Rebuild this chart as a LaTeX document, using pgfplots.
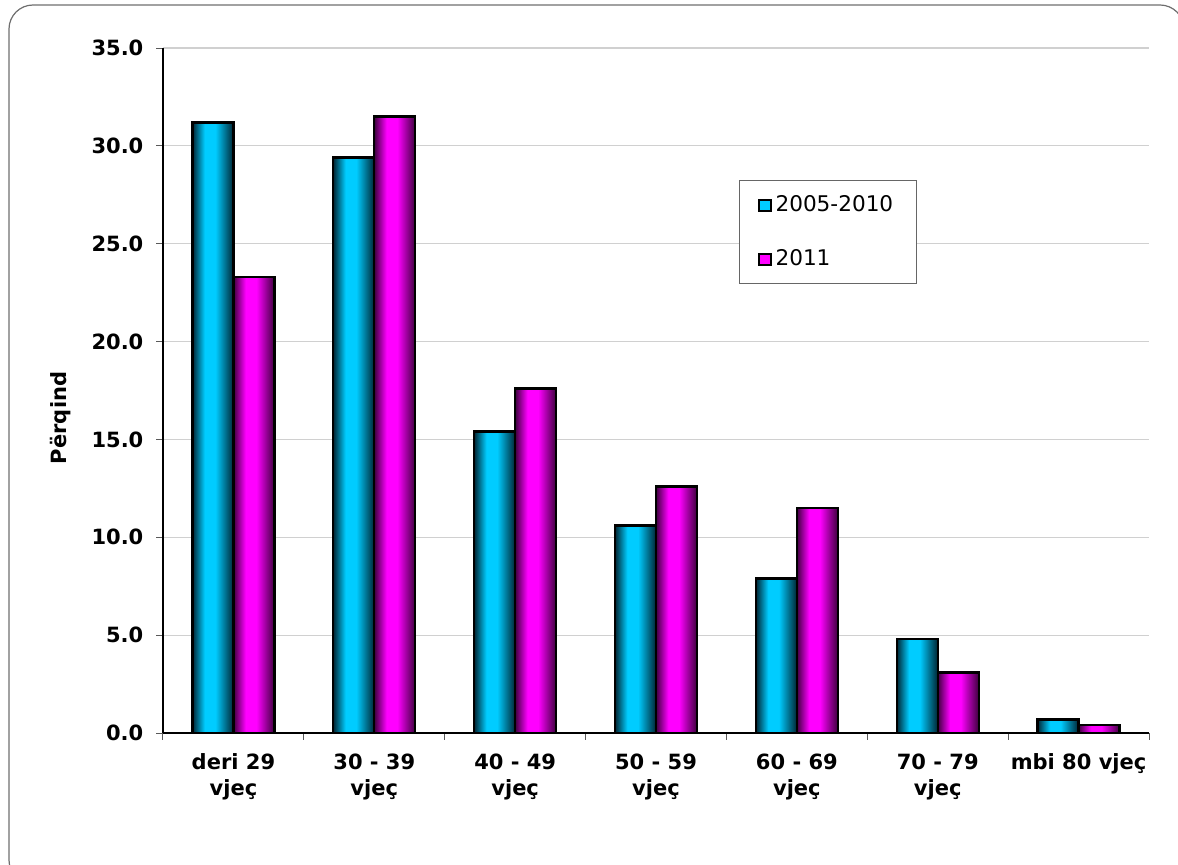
\documentclass[border=0pt]{standalone}
\usepackage{fontspec}
\setmainfont{DejaVu Sans}
\usepackage{pgfplots}
\pgfplotsset{compat=1.18}

\definecolor{cyanbright}{RGB}{0,204,255}
\definecolor{cyandark}{RGB}{0,38,52}
\definecolor{magbright}{RGB}{255,0,255}
\definecolor{magdark}{RGB}{62,0,62}
\definecolor{gridgray}{RGB}{208,208,208}
\definecolor{framegray}{RGB}{110,110,110}

\pgfdeclarehorizontalshading{cyanbar}{100bp}{color(0bp)=(cyandark); color(25bp)=(cyandark); color(40bp)=(cyanbright); color(53bp)=(cyanbright); color(75bp)=(cyandark); color(100bp)=(cyandark)}
\pgfdeclarehorizontalshading{magbar}{100bp}{color(0bp)=(magdark); color(25bp)=(magdark); color(40bp)=(magbright); color(53bp)=(magbright); color(75bp)=(magdark); color(100bp)=(magdark)}

\newcommand{\lblfont}{\fontsize{10.5}{13}\selectfont}

\pgfplotsset{
  bluebar/.style={ybar, bar width=20.5pt, bar shift=-10.25pt, draw=black, line width=1.2pt, shading=cyanbar, forget plot},
  magbarst/.style={ybar, bar width=20.5pt, bar shift=10.25pt, draw=black, line width=1.2pt, shading=magbar, forget plot},
}

\begin{document}
\begin{tikzpicture}[x=1pt,y=1pt]
\useasboundingbox (0,0) rectangle (589,432);
\begin{scope}
\clip (0,0) rectangle (589,432);
\draw[framegray, line width=0.6pt, rounded corners=12pt] (4.5,-10) rectangle (592,429.5);
\end{scope}
\begin{axis}[
  at={(81.5pt,65.5pt)}, anchor=south west,
  scale only axis, width=493pt, height=342.5pt,
  xmin=-0.5, xmax=6.5, ymin=0, ymax=35,
  xtick={-0.5,0.5,...,6.5},
  x tick label as interval,
  xticklabels={{deri 29\\vjeç},{30 - 39\\vjeç},{40 - 49\\vjeç},{50 - 59\\vjeç},{60 - 69\\vjeç},{70 - 79\\vjeç},{mbi 80 vjeç}},
  ytick={0,5,...,35},
  yticklabel style={/pgf/number format/fixed, /pgf/number format/fixed zerofill, /pgf/number format/precision=1, /pgf/number format/assume math mode=true, xshift=-3pt},
  ticklabel style={font=\bfseries\lblfont},
  xticklabel style={align=center, anchor=north, yshift=-3.5pt},
  tick align=outside, major tick length=3.3pt,
  tick style={gray!70!black, line width=0.5pt},
  axis x line*=bottom, axis y line*=left,
  axis line style={-, black, line width=0.6pt},
  ymajorgrids, grid style={gridgray, line width=0.6pt},
  ylabel={Përqind},
  ylabel style={font=\bfseries\lblfont, at={(rel axis cs:-0.1035,0.46)}, anchor=center},
  legend style={at={(rel axis cs:0.584,0.807)}, anchor=north west, draw=gray!80!black, line width=0.5pt, font=\fontsize{10.8}{13}\selectfont, row sep=13.5pt, inner xsep=9.5pt, inner ysep=5.5pt},
  legend cell align=left,
]
\addlegendimage{legend image code/.code={\draw[draw=black,line width=1pt,fill=cyanbright] (0pt,-2.8pt) rectangle (5.6pt,2.8pt);}}
\addlegendentry{2005-2010}
\addlegendimage{legend image code/.code={\draw[draw=black,line width=1pt,fill=magbright] (0pt,-2.8pt) rectangle (5.6pt,2.8pt);}}
\addlegendentry{2011}
% 2005-2010
\addplot[bluebar] coordinates {(0,31.2)};
\addplot[bluebar] coordinates {(1,29.4)};
\addplot[bluebar] coordinates {(2,15.4)};
\addplot[bluebar] coordinates {(3,10.6)};
\addplot[bluebar] coordinates {(4,7.9)};
\addplot[bluebar] coordinates {(5,4.8)};
\addplot[bluebar] coordinates {(6,0.7)};
% 2011
\addplot[magbarst] coordinates {(0,23.3)};
\addplot[magbarst] coordinates {(1,31.5)};
\addplot[magbarst] coordinates {(2,17.6)};
\addplot[magbarst] coordinates {(3,12.6)};
\addplot[magbarst] coordinates {(4,11.5)};
\addplot[magbarst] coordinates {(5,3.1)};
\addplot[magbarst] coordinates {(6,0.4)};
\end{axis}
\end{tikzpicture}
\end{document}
